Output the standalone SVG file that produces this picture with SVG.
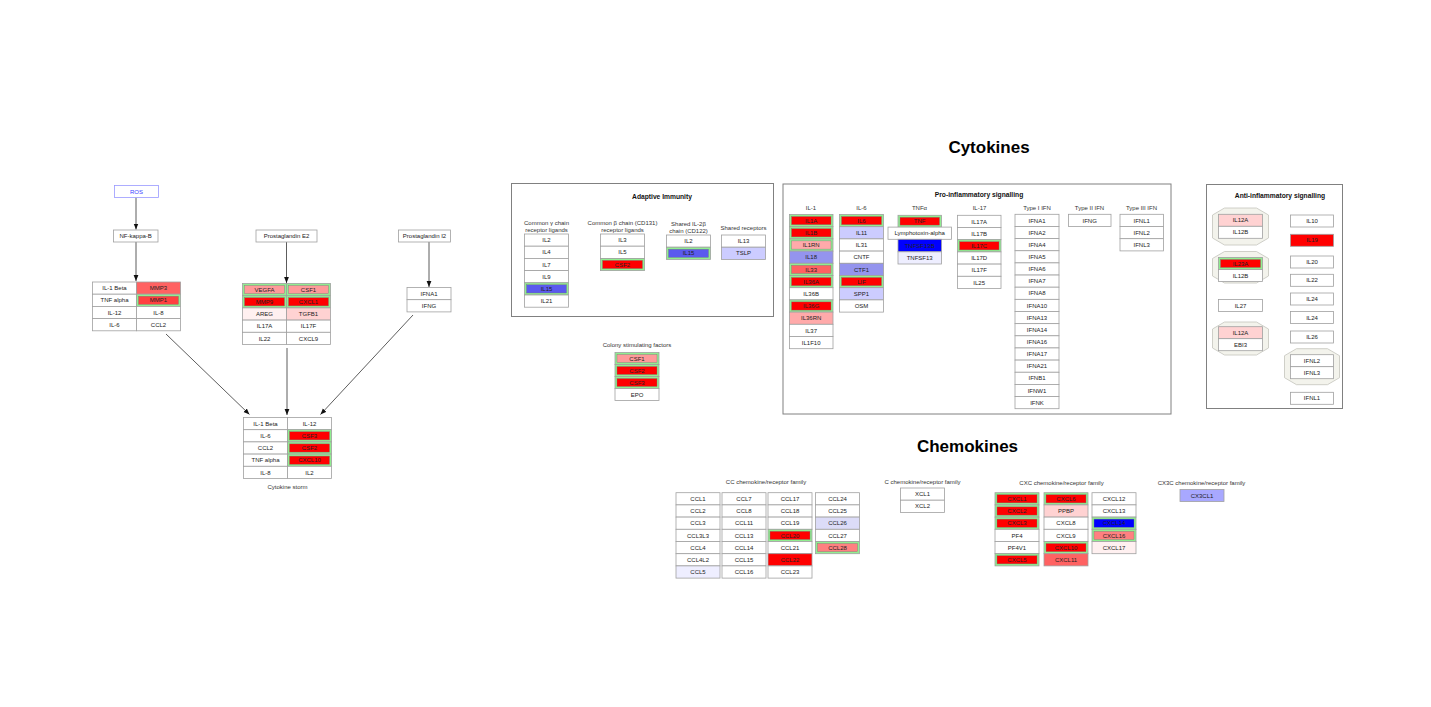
<svg xmlns="http://www.w3.org/2000/svg" width="1431" height="707" viewBox="0 0 1431 707">
<defs>
<marker id="ah" viewBox="0 0 10 10" refX="10" refY="5" markerWidth="6" markerHeight="6" orient="auto" markerUnits="userSpaceOnUse"><path d="M0,1 L10,5 L0,9 z" fill="#111"/></marker>
<style>
.c{fill:#fff;stroke:#a0a0a0;stroke-width:0.8}
.g{fill:#90ee90;stroke:#a0a0a0;stroke-width:0.8}
.i{stroke:#7a7a7a;stroke-width:0.4}
.r{fill:#ff0000}.r4{fill:#ff4040}.p{fill:#ff9a9a}.p2{fill:#ffaaaa}.m{fill:#ff6262}.m2{fill:#ff8080}
.lp{fill:#ffd2d2}.vp{fill:#fff0f0}.bl{fill:#0000ff}.b5{fill:#5a5aee}.b9{fill:#9494ee}.ba{fill:#a8a8ff}
.bc{fill:#ccccff}.bd{fill:#dcdcf8}.be{fill:#eeeeff}
.t{font-family:"Liberation Sans",Arial,sans-serif;font-size:6px;text-anchor:middle;fill:#222}
.h{font-family:"Liberation Sans",Arial,sans-serif;font-size:6px;text-anchor:middle;fill:#333}
.b{font-family:"Liberation Sans",Arial,sans-serif;font-size:6.7px;font-weight:bold;text-anchor:middle;fill:#111}
.big{font-family:"Liberation Sans",Arial,sans-serif;font-size:17px;font-weight:bold;text-anchor:middle;fill:#000}
.frame{fill:#fff;stroke:#808080;stroke-width:1}
.oct{fill:#f3f3ec;stroke:#c4c4bc;stroke-width:0.8}
.conn line{stroke:#333;stroke-width:0.8;marker-end:url(#ah)}
</style>
</defs>
<rect width="1431" height="707" fill="#fff"/>

<g id="connectors" class="conn">
<line x1="136" y1="197.5" x2="136" y2="229.5"/>
<line x1="136" y1="242" x2="136" y2="281"/>
<line x1="286.5" y1="242" x2="286.5" y2="283"/>
<line x1="429" y1="242" x2="429" y2="287"/>
<line x1="166" y1="334" x2="249.5" y2="414.5"/>
<line x1="287" y1="348" x2="287" y2="415"/>
<line x1="413" y1="315" x2="320.5" y2="414.5"/>
</g>

<g id="ROS"><rect x="114.5" y="185.5" width="44" height="12" fill="#fff" stroke="#9a9aff" stroke-width="0.8"/><text class="t" x="136.5" y="193.7" style="fill:#4040ff">ROS</text></g>
<g id="NFkB"><rect class="c" x="113.5" y="230" width="44.5" height="12"/><text class="t" x="135.7" y="238.2">NF-kappa-B</text></g>
<g id="PGE2"><rect class="c" x="256" y="230" width="61" height="12"/><text class="t" x="286.5" y="238.2">Prostaglandin E2</text></g>
<g id="PGI2"><rect class="c" x="398.5" y="230" width="52" height="12"/><text class="t" x="424.5" y="238.2">Prostaglandin I2</text></g>

<g id="nfkb-targets">
<rect class="c" x="92.5" y="282" width="44" height="12.2"/><text class="t" x="114.5" y="290.2">IL-1 Beta</text>
<rect class="c m" x="136.5" y="282" width="44" height="12.2"/><text class="t" x="158.5" y="290.2">MMP3</text>
<rect class="c" x="92.5" y="294.2" width="44" height="12.2"/><text class="t" x="114.5" y="302.4">TNF alpha</text>
<rect class="g" x="136.5" y="294.2" width="44" height="12.2"/><rect class="i r4" x="138.5" y="296.2" width="40" height="8.2"/><text class="t" x="158.5" y="302.4">MMP1</text>
<rect class="c" x="92.5" y="306.4" width="44" height="12.2"/><text class="t" x="114.5" y="314.6">IL-12</text>
<rect class="c" x="136.5" y="306.4" width="44" height="12.2"/><text class="t" x="158.5" y="314.6">IL-8</text>
<rect class="c" x="92.5" y="318.6" width="44" height="12.2"/><text class="t" x="114.5" y="326.8">IL-6</text>
<rect class="c" x="136.5" y="318.6" width="44" height="12.2"/><text class="t" x="158.5" y="326.8">CCL2</text>
</g>

<g id="pge2-targets">
<rect class="g" x="242.5" y="283.5" width="44" height="12.2"/><rect class="i p" x="244.5" y="285.5" width="40" height="8.2"/><text class="t" x="264.5" y="291.7">VEGFA</text>
<rect class="g" x="286.5" y="283.5" width="44" height="12.2"/><rect class="i p" x="288.5" y="285.5" width="40" height="8.2"/><text class="t" x="308.5" y="291.7">CSF1</text>
<rect class="g" x="242.5" y="295.7" width="44" height="12.2"/><rect class="i r" x="244.5" y="297.7" width="40" height="8.2"/><text class="t" x="264.5" y="303.9">MMP9</text>
<rect class="g" x="286.5" y="295.7" width="44" height="12.2"/><rect class="i r" x="288.5" y="297.7" width="40" height="8.2"/><text class="t" x="308.5" y="303.9">CXCL1</text>
<rect class="c vp" x="242.5" y="307.9" width="44" height="12.2"/><text class="t" x="264.5" y="316.1">AREG</text>
<rect class="c lp" x="286.5" y="307.9" width="44" height="12.2"/><text class="t" x="308.5" y="316.1">TGFB1</text>
<rect class="c" x="242.5" y="320.1" width="44" height="12.2"/><text class="t" x="264.5" y="328.3">IL17A</text>
<rect class="c" x="286.5" y="320.1" width="44" height="12.2"/><text class="t" x="308.5" y="328.3">IL17F</text>
<rect class="c" x="242.5" y="332.3" width="44" height="12.2"/><text class="t" x="264.5" y="340.5">IL22</text>
<rect class="c" x="286.5" y="332.3" width="44" height="12.2"/><text class="t" x="308.5" y="340.5">CXCL9</text>
</g>

<g id="pgi2-targets">
<rect class="c" x="407" y="287.5" width="44" height="12.2"/><text class="t" x="429" y="295.7">IFNA1</text>
<rect class="c" x="407" y="299.7" width="44" height="12.2"/><text class="t" x="429" y="307.9">IFNG</text>
</g>

<g id="cytokine-storm">
<rect class="c" x="243.5" y="417.5" width="44" height="12.2"/><text class="t" x="265.5" y="425.7">IL-1 Beta</text>
<rect class="c" x="287.5" y="417.5" width="44" height="12.2"/><text class="t" x="309.5" y="425.7">IL-12</text>
<rect class="c" x="243.5" y="429.7" width="44" height="12.2"/><text class="t" x="265.5" y="437.9">IL-6</text>
<rect class="g" x="287.5" y="429.7" width="44" height="12.2"/><rect class="i r" x="289.5" y="431.7" width="40" height="8.2"/><text class="t" x="309.5" y="437.9">CSF3</text>
<rect class="c" x="243.5" y="441.9" width="44" height="12.2"/><text class="t" x="265.5" y="450.1">CCL2</text>
<rect class="g" x="287.5" y="441.9" width="44" height="12.2"/><rect class="i r" x="289.5" y="443.9" width="40" height="8.2"/><text class="t" x="309.5" y="450.1">CSF2</text>
<rect class="c" x="243.5" y="454.1" width="44" height="12.2"/><text class="t" x="265.5" y="462.3">TNF alpha</text>
<rect class="g" x="287.5" y="454.1" width="44" height="12.2"/><rect class="i r" x="289.5" y="456.1" width="40" height="8.2"/><text class="t" x="309.5" y="462.3">CXCL10</text>
<rect class="c" x="243.5" y="466.3" width="44" height="12.2"/><text class="t" x="265.5" y="474.5">IL-8</text>
<rect class="c" x="287.5" y="466.3" width="44" height="12.2"/><text class="t" x="309.5" y="474.5">IL2</text>
<text class="h" x="287.5" y="489">Cytokine storm</text>
</g>

<text class="big" x="989" y="153">Cytokines</text>
<text class="big" x="967.5" y="452">Chemokines</text>

<g id="adaptive-immunity">
<rect class="frame" x="511.5" y="183.5" width="262" height="133"/>
<text class="b" x="662" y="199">Adaptive Immunity</text>
<text class="h" x="546.5" y="225">Common γ chain</text><text class="h" x="546.5" y="232">receptor ligands</text>
<rect class="c" x="524.5" y="234" width="44" height="12.2"/><text class="t" x="546.5" y="242.2">IL2</text>
<rect class="c" x="524.5" y="246.2" width="44" height="12.2"/><text class="t" x="546.5" y="254.4">IL4</text>
<rect class="c" x="524.5" y="258.4" width="44" height="12.2"/><text class="t" x="546.5" y="266.6">IL7</text>
<rect class="c" x="524.5" y="270.6" width="44" height="12.2"/><text class="t" x="546.5" y="278.8">IL9</text>
<rect class="g" x="524.5" y="282.8" width="44" height="12.2"/><rect class="i b5" x="526.5" y="284.8" width="40" height="8.2"/><text class="t" x="546.5" y="291">IL15</text>
<rect class="c" x="524.5" y="295" width="44" height="12.2"/><text class="t" x="546.5" y="303.2">IL21</text>
<text class="h" x="622.5" y="225">Common β chain (CD131)</text><text class="h" x="622.5" y="232">receptor ligands</text>
<rect class="c" x="600.5" y="234" width="44" height="12.2"/><text class="t" x="622.5" y="242.2">IL3</text>
<rect class="c" x="600.5" y="246.2" width="44" height="12.2"/><text class="t" x="622.5" y="254.4">IL5</text>
<rect class="g" x="600.5" y="258.4" width="44" height="12.2"/><rect class="i r" x="602.5" y="260.4" width="40" height="8.2"/><text class="t" x="622.5" y="266.6">CSF2</text>
<text class="h" x="688.5" y="226">Shared IL-2β</text><text class="h" x="688.5" y="233">chain (CD122)</text>
<rect class="c" x="666.5" y="235" width="44" height="12.2"/><text class="t" x="688.5" y="243.2">IL2</text>
<rect class="g" x="666.5" y="247.2" width="44" height="12.2"/><rect class="i b5" x="668.5" y="249.2" width="40" height="8.2"/><text class="t" x="688.5" y="255.4">IL15</text>
<text class="h" x="743.5" y="230">Shared receptors</text>
<rect class="c" x="721.5" y="235" width="44" height="12.2"/><text class="t" x="743.5" y="243.2">IL13</text>
<rect class="c bc" x="721.5" y="247.2" width="44" height="12.2"/><text class="t" x="743.5" y="255.4">TSLP</text>
</g>

<g id="colony-stimulating-factors">
<text class="h" x="637" y="347">Colony stimulating factors</text>
<rect class="g" x="615" y="352.5" width="44" height="12"/><rect class="i p" x="617" y="354.5" width="40" height="8"/><text class="t" x="637" y="360.6">CSF1</text>
<rect class="g" x="615" y="364.5" width="44" height="12"/><rect class="i r" x="617" y="366.5" width="40" height="8"/><text class="t" x="637" y="372.6">CSF2</text>
<rect class="g" x="615" y="376.5" width="44" height="12"/><rect class="i r" x="617" y="378.5" width="40" height="8"/><text class="t" x="637" y="384.6">CSF3</text>
<rect class="c" x="615" y="388.5" width="44" height="12"/><text class="t" x="637" y="396.6">EPO</text>
</g>

<g id="pro-inflammatory">
<rect class="frame" x="783" y="184" width="388" height="230"/>
<text class="b" x="979" y="197">Pro-inflammatory signalling</text>
<text class="h" x="811" y="210">IL-1</text>
<text class="h" x="861.5" y="210">IL-6</text>
<text class="h" x="919.5" y="210">TNFα</text>
<text class="h" x="979.5" y="210">IL-17</text>
<text class="h" x="1037" y="210">Type I IFN</text>
<text class="h" x="1089.5" y="210">Type II IFN</text>
<text class="h" x="1141.5" y="210">Type III IFN</text>

<g id="il1-family">
<rect class="g" x="789.5" y="214.5" width="43.5" height="12.2"/><rect class="i r" x="791.5" y="216.5" width="39.5" height="8.2"/><text class="t" x="811.2" y="222.7">IL1A</text>
<rect class="g" x="789.5" y="226.7" width="43.5" height="12.2"/><rect class="i r" x="791.5" y="228.7" width="39.5" height="8.2"/><text class="t" x="811.2" y="234.9">IL1B</text>
<rect class="g" x="789.5" y="238.9" width="43.5" height="12.2"/><rect class="i p2" x="791.5" y="240.9" width="39.5" height="8.2"/><text class="t" x="811.2" y="247.1">IL1RN</text>
<rect class="c b9" x="789.5" y="251.1" width="43.5" height="12.2"/><text class="t" x="811.2" y="259.3">IL18</text>
<rect class="g" x="789.5" y="263.3" width="43.5" height="12.2"/><rect class="i m" x="791.5" y="265.3" width="39.5" height="8.2"/><text class="t" x="811.2" y="271.5">IL33</text>
<rect class="g" x="789.5" y="275.5" width="43.5" height="12.2"/><rect class="i r" x="791.5" y="277.5" width="39.5" height="8.2"/><text class="t" x="811.2" y="283.7">IL36A</text>
<rect class="c" x="789.5" y="287.7" width="43.5" height="12.2"/><text class="t" x="811.2" y="295.9">IL36B</text>
<rect class="g" x="789.5" y="299.9" width="43.5" height="12.2"/><rect class="i r" x="791.5" y="301.9" width="39.5" height="8.2"/><text class="t" x="811.2" y="308.1">IL36G</text>
<rect class="c p2" x="789.5" y="312.1" width="43.5" height="12.2"/><text class="t" x="811.2" y="320.3">IL36RN</text>
<rect class="c" x="789.5" y="324.3" width="43.5" height="12.2"/><text class="t" x="811.2" y="332.5">IL37</text>
<rect class="c" x="789.5" y="336.5" width="43.5" height="12.2"/><text class="t" x="811.2" y="344.7">IL1F10</text>
</g>
<g id="il6-family">
<rect class="g" x="839.5" y="214.5" width="44" height="12.2"/><rect class="i r" x="841.5" y="216.5" width="40" height="8.2"/><text class="t" x="861.5" y="222.7">IL6</text>
<rect class="c bc" x="839.5" y="226.7" width="44" height="12.2"/><text class="t" x="861.5" y="234.9">IL11</text>
<rect class="c" x="839.5" y="238.9" width="44" height="12.2"/><text class="t" x="861.5" y="247.1">IL31</text>
<rect class="c" x="839.5" y="251.1" width="44" height="12.2"/><text class="t" x="861.5" y="259.3">CNTF</text>
<rect class="c b9" x="839.5" y="263.3" width="44" height="12.2"/><text class="t" x="861.5" y="271.5">CTF1</text>
<rect class="g" x="839.5" y="275.5" width="44" height="12.2"/><rect class="i r" x="841.5" y="277.5" width="40" height="8.2"/><text class="t" x="861.5" y="283.7">LIF</text>
<rect class="c bc" x="839.5" y="287.7" width="44" height="12.2"/><text class="t" x="861.5" y="295.9">SPP1</text>
<rect class="c" x="839.5" y="299.9" width="44" height="12.2"/><text class="t" x="861.5" y="308.1">OSM</text>
</g>
<g id="tnf-family">
<rect class="g" x="898" y="215.3" width="43.5" height="11.8"/><rect class="i r" x="900" y="217.3" width="39.5" height="7.8"/><text class="t" x="919.7" y="223.3">TNF</text>
<rect class="c" x="888" y="227.1" width="63.5" height="12.2"/><text class="t" x="919.7" y="235.3">Lymphotoxin-alpha</text>
<rect class="c bl" x="898" y="239.3" width="43.5" height="12.5"/><text class="t" x="919.7" y="247.7">TNFSF13B</text>
<rect class="c be" x="898" y="251.8" width="43.5" height="12.2"/><text class="t" x="919.7" y="260">TNFSF13</text>
</g>
<g id="il17-family">
<rect class="c" x="957.5" y="215.3" width="43.5" height="12.2"/><text class="t" x="979.2" y="223.5">IL17A</text>
<rect class="c" x="957.5" y="227.5" width="43.5" height="12.2"/><text class="t" x="979.2" y="235.7">IL17B</text>
<rect class="g" x="957.5" y="239.7" width="43.5" height="12.2"/><rect class="i r" x="959.5" y="241.7" width="39.5" height="8.2"/><text class="t" x="979.2" y="247.9">IL17C</text>
<rect class="c" x="957.5" y="251.9" width="43.5" height="12.2"/><text class="t" x="979.2" y="260.1">IL17D</text>
<rect class="c" x="957.5" y="264.1" width="43.5" height="12.2"/><text class="t" x="979.2" y="272.3">IL17F</text>
<rect class="c" x="957.5" y="276.3" width="43.5" height="12.2"/><text class="t" x="979.2" y="284.5">IL25</text>
</g>
<g id="type1-ifn">
<rect class="c" x="1015" y="214.3" width="44" height="12.15"/><text class="t" x="1037" y="222.5">IFNA1</text>
<rect class="c" x="1015" y="226.45" width="44" height="12.15"/><text class="t" x="1037" y="234.6">IFNA2</text>
<rect class="c" x="1015" y="238.6" width="44" height="12.15"/><text class="t" x="1037" y="246.8">IFNA4</text>
<rect class="c" x="1015" y="250.75" width="44" height="12.15"/><text class="t" x="1037" y="258.9">IFNA5</text>
<rect class="c" x="1015" y="262.9" width="44" height="12.15"/><text class="t" x="1037" y="271.1">IFNA6</text>
<rect class="c" x="1015" y="275.05" width="44" height="12.15"/><text class="t" x="1037" y="283.2">IFNA7</text>
<rect class="c" x="1015" y="287.2" width="44" height="12.15"/><text class="t" x="1037" y="295.4">IFNA8</text>
<rect class="c" x="1015" y="299.35" width="44" height="12.15"/><text class="t" x="1037" y="307.5">IFNA10</text>
<rect class="c" x="1015" y="311.5" width="44" height="12.15"/><text class="t" x="1037" y="319.7">IFNA13</text>
<rect class="c" x="1015" y="323.65" width="44" height="12.15"/><text class="t" x="1037" y="331.8">IFNA14</text>
<rect class="c" x="1015" y="335.8" width="44" height="12.15"/><text class="t" x="1037" y="344">IFNA16</text>
<rect class="c" x="1015" y="347.95" width="44" height="12.15"/><text class="t" x="1037" y="356.1">IFNA17</text>
<rect class="c" x="1015" y="360.1" width="44" height="12.15"/><text class="t" x="1037" y="368.3">IFNA21</text>
<rect class="c" x="1015" y="372.25" width="44" height="12.15"/><text class="t" x="1037" y="380.4">IFNB1</text>
<rect class="c" x="1015" y="384.4" width="44" height="12.15"/><text class="t" x="1037" y="392.6">IFNW1</text>
<rect class="c" x="1015" y="396.55" width="44" height="12.15"/><text class="t" x="1037" y="404.7">IFNK</text>
</g>
<g id="type2-ifn">
<rect class="c" x="1068.5" y="214.3" width="42.5" height="12.2"/><text class="t" x="1089.7" y="222.5">IFNG</text>
</g>
<g id="type3-ifn">
<rect class="c" x="1120" y="214.3" width="43.5" height="12.2"/><text class="t" x="1141.7" y="222.5">IFNL1</text>
<rect class="c" x="1120" y="226.5" width="43.5" height="12.2"/><text class="t" x="1141.7" y="234.7">IFNL2</text>
<rect class="c" x="1120" y="238.7" width="43.5" height="12.2"/><text class="t" x="1141.7" y="246.9">IFNL3</text>
</g>
</g>

<g id="anti-inflammatory">
<rect class="frame" x="1206.5" y="184.5" width="136" height="224"/>
<text class="b" x="1280" y="198">Anti-inflammatory signalling</text>
<g id="il12-complex">
<polygon class="oct" points="1224.5,208 1256.5,208 1268.5,215 1268.5,238 1256.5,245 1224.5,245 1212.5,238 1212.5,215"/>
<rect class="c lp" x="1218.5" y="214.3" width="44" height="12"/><text class="t" x="1240.5" y="222.4">IL12A</text>
<rect class="c" x="1218.5" y="226.3" width="44" height="12"/><text class="t" x="1240.5" y="234.4">IL12B</text>
</g>
<g id="il23-complex">
<polygon class="oct" points="1224.5,251.5 1256.5,251.5 1268.5,258.5 1268.5,276 1256.5,283 1224.5,283 1212.5,276 1212.5,258.5"/>
<rect class="g" x="1218.5" y="257.5" width="44" height="12"/><rect class="i r" x="1220.5" y="259.5" width="40" height="8"/><text class="t" x="1240.5" y="265.6">IL23A</text>
<rect class="c" x="1218.5" y="269.5" width="44" height="12"/><text class="t" x="1240.5" y="277.6">IL12B</text>
</g>
<g id="IL27"><rect class="c" x="1218.5" y="299.5" width="44" height="12"/><text class="t" x="1240.5" y="307.6">IL27</text></g>
<g id="il35-complex">
<polygon class="oct" points="1224.5,322 1256.5,322 1268.5,329 1268.5,348 1256.5,355 1224.5,355 1212.5,348 1212.5,329"/>
<rect class="c lp" x="1218.5" y="326.7" width="44" height="12"/><text class="t" x="1240.5" y="334.8">IL12A</text>
<rect class="c" x="1218.5" y="338.7" width="44" height="12"/><text class="t" x="1240.5" y="346.8">EBI3</text>
</g>
<g id="IL10"><rect class="c" x="1290.5" y="215" width="43" height="12"/><text class="t" x="1312" y="223.1">IL10</text></g>
<g id="IL19"><rect class="c r" x="1290.5" y="234.3" width="43" height="12"/><text class="t" x="1312" y="242.4">IL19</text></g>
<g id="IL20"><rect class="c" x="1290.5" y="256" width="43" height="12"/><text class="t" x="1312" y="264.1">IL20</text></g>
<g id="IL22"><rect class="c" x="1290.5" y="274.3" width="43" height="12"/><text class="t" x="1312" y="282.4">IL22</text></g>
<g id="IL24a"><rect class="c" x="1290.5" y="293" width="43" height="12"/><text class="t" x="1312" y="301.1">IL24</text></g>
<g id="IL24b"><rect class="c" x="1290.5" y="311.5" width="43" height="12"/><text class="t" x="1312" y="319.6">IL24</text></g>
<g id="IL26"><rect class="c" x="1290.5" y="331" width="43" height="12"/><text class="t" x="1312" y="339.1">IL26</text></g>
<g id="ifnl-complex">
<polygon class="oct" points="1296.5,348.7 1327.5,348.7 1339.5,355.7 1339.5,377.7 1327.5,384.7 1296.5,384.7 1284.5,377.7 1284.5,355.7"/>
<rect class="c" x="1290.5" y="354.7" width="43" height="12"/><text class="t" x="1312" y="362.8">IFNL2</text>
<rect class="c" x="1290.5" y="366.7" width="43" height="12"/><text class="t" x="1312" y="374.8">IFNL3</text>
</g>
<g id="IFNL1"><rect class="c" x="1290.5" y="392.3" width="43" height="12"/><text class="t" x="1312" y="400.4">IFNL1</text></g>
</g>

<g id="cc-chemokines">
<text class="h" x="766" y="484">CC chemokine/receptor family</text>
<rect class="c" x="676" y="492.7" width="44" height="12.2"/><text class="t" x="698" y="500.9">CCL1</text>
<rect class="c" x="676" y="504.9" width="44" height="12.2"/><text class="t" x="698" y="513.1">CCL2</text>
<rect class="c" x="676" y="517.1" width="44" height="12.2"/><text class="t" x="698" y="525.3">CCL3</text>
<rect class="c" x="676" y="529.3" width="44" height="12.2"/><text class="t" x="698" y="537.5">CCL3L3</text>
<rect class="c" x="676" y="541.5" width="44" height="12.2"/><text class="t" x="698" y="549.7">CCL4</text>
<rect class="c" x="676" y="553.7" width="44" height="12.2"/><text class="t" x="698" y="561.9">CCL4L2</text>
<rect class="c be" x="676" y="565.9" width="44" height="12.2"/><text class="t" x="698" y="574.1">CCL5</text>
<rect class="c" x="722" y="492.7" width="44" height="12.2"/><text class="t" x="744" y="500.9">CCL7</text>
<rect class="c" x="722" y="504.9" width="44" height="12.2"/><text class="t" x="744" y="513.1">CCL8</text>
<rect class="c" x="722" y="517.1" width="44" height="12.2"/><text class="t" x="744" y="525.3">CCL11</text>
<rect class="c" x="722" y="529.3" width="44" height="12.2"/><text class="t" x="744" y="537.5">CCL13</text>
<rect class="c" x="722" y="541.5" width="44" height="12.2"/><text class="t" x="744" y="549.7">CCL14</text>
<rect class="c" x="722" y="553.7" width="44" height="12.2"/><text class="t" x="744" y="561.9">CCL15</text>
<rect class="c" x="722" y="565.9" width="44" height="12.2"/><text class="t" x="744" y="574.1">CCL16</text>
<rect class="c" x="768" y="492.7" width="44" height="12.2"/><text class="t" x="790" y="500.9">CCL17</text>
<rect class="c" x="768" y="504.9" width="44" height="12.2"/><text class="t" x="790" y="513.1">CCL18</text>
<rect class="c" x="768" y="517.1" width="44" height="12.2"/><text class="t" x="790" y="525.3">CCL19</text>
<rect class="g" x="768" y="529.3" width="44" height="12.2"/><rect class="i r" x="770" y="531.3" width="40" height="8.2"/><text class="t" x="790" y="537.5">CCL20</text>
<rect class="c" x="768" y="541.5" width="44" height="12.2"/><text class="t" x="790" y="549.7">CCL21</text>
<rect class="c r" x="768" y="553.7" width="44" height="12.2"/><text class="t" x="790" y="561.9">CCL22</text>
<rect class="c" x="768" y="565.9" width="44" height="12.2"/><text class="t" x="790" y="574.1">CCL23</text>
<rect class="c" x="815.5" y="492.7" width="44" height="12.2"/><text class="t" x="837.5" y="500.9">CCL24</text>
<rect class="c" x="815.5" y="504.9" width="44" height="12.2"/><text class="t" x="837.5" y="513.1">CCL25</text>
<rect class="c bd" x="815.5" y="517.1" width="44" height="12.2"/><text class="t" x="837.5" y="525.3">CCL26</text>
<rect class="c" x="815.5" y="529.3" width="44" height="12.2"/><text class="t" x="837.5" y="537.5">CCL27</text>
<rect class="g" x="815.5" y="541.5" width="44" height="12.2"/><rect class="i m2" x="817.5" y="543.5" width="40" height="8.2"/><text class="t" x="837.5" y="549.7">CCL28</text>
</g>

<g id="c-chemokines">
<text class="h" x="922.5" y="484">C chemokine/receptor family</text>
<rect class="c" x="900.5" y="488" width="44" height="12.2"/><text class="t" x="922.5" y="496.2">XCL1</text>
<rect class="c" x="900.5" y="500.2" width="44" height="12.2"/><text class="t" x="922.5" y="508.4">XCL2</text>
</g>

<g id="cxc-chemokines">
<text class="h" x="1061.5" y="485">CXC chemokine/receptor family</text>
<rect class="g" x="995" y="492.7" width="44" height="12.2"/><rect class="i r" x="997" y="494.7" width="40" height="8.2"/><text class="t" x="1017" y="500.9">CXCL1</text>
<rect class="g" x="995" y="504.9" width="44" height="12.2"/><rect class="i r" x="997" y="506.9" width="40" height="8.2"/><text class="t" x="1017" y="513.1">CXCL2</text>
<rect class="g" x="995" y="517.1" width="44" height="12.2"/><rect class="i r" x="997" y="519.1" width="40" height="8.2"/><text class="t" x="1017" y="525.3">CXCL3</text>
<rect class="c" x="995" y="529.3" width="44" height="12.2"/><text class="t" x="1017" y="537.5">PF4</text>
<rect class="c" x="995" y="541.5" width="44" height="12.2"/><text class="t" x="1017" y="549.7">PF4V1</text>
<rect class="g" x="995" y="553.7" width="44" height="12.2"/><rect class="i r" x="997" y="555.7" width="40" height="8.2"/><text class="t" x="1017" y="561.9">CXCL5</text>
<rect class="g" x="1044" y="492.7" width="44" height="12.2"/><rect class="i r" x="1046" y="494.7" width="40" height="8.2"/><text class="t" x="1066" y="500.9">CXCL6</text>
<rect class="c lp" x="1044" y="504.9" width="44" height="12.2"/><text class="t" x="1066" y="513.1">PPBP</text>
<rect class="c" x="1044" y="517.1" width="44" height="12.2"/><text class="t" x="1066" y="525.3">CXCL8</text>
<rect class="c" x="1044" y="529.3" width="44" height="12.2"/><text class="t" x="1066" y="537.5">CXCL9</text>
<rect class="g" x="1044" y="541.5" width="44" height="12.2"/><rect class="i r" x="1046" y="543.5" width="40" height="8.2"/><text class="t" x="1066" y="549.7">CXCL10</text>
<rect class="c m" x="1044" y="553.7" width="44" height="12.2"/><text class="t" x="1066" y="561.9">CXCL11</text>
<rect class="c" x="1092" y="492.7" width="44" height="12.2"/><text class="t" x="1114" y="500.9">CXCL12</text>
<rect class="c" x="1092" y="504.9" width="44" height="12.2"/><text class="t" x="1114" y="513.1">CXCL13</text>
<rect class="g" x="1092" y="517.1" width="44" height="12.2"/><rect class="i bl" x="1094" y="519.1" width="40" height="8.2"/><text class="t" x="1114" y="525.3">CXCL14</text>
<rect class="g" x="1092" y="529.3" width="44" height="12.2"/><rect class="i m2" x="1094" y="531.3" width="40" height="8.2"/><text class="t" x="1114" y="537.5">CXCL16</text>
<rect class="c vp" x="1092" y="541.5" width="44" height="12.2"/><text class="t" x="1114" y="549.7">CXCL17</text>
</g>

<g id="cx3c-chemokines">
<text class="h" x="1201.5" y="485">CX3C chemokine/receptor family</text>
<rect class="c ba" x="1180" y="489.5" width="44" height="12"/><text class="t" x="1202" y="497.6">CX3CL1</text>
</g>
</svg>
